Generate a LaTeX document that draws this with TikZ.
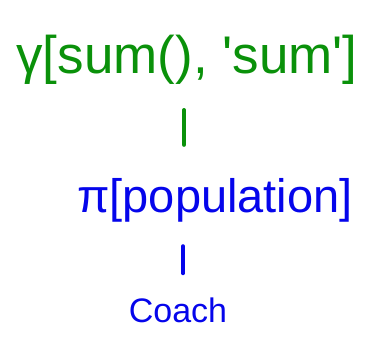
\documentclass[tikz,border=0pt]{standalone}
\usepackage{fontspec}
\setmainfont{Liberation Sans}
\usetikzlibrary{positioning}
\definecolor{inkgreen}{RGB}{10,145,10}
\definecolor{inkblue}{RGB}{5,5,235}
\begin{document}
\begin{tikzpicture}[x=1pt, y=-1pt,
    every node/.style={inner sep=0pt},
    opgreen/.style={text=inkgreen, font=\fontsize{53}{58}\selectfont},
    opblue/.style={text=inkblue, font=\fontsize{47}{52}\selectfont},
    link/.style={line width=3.8pt, line cap=round}]
    \useasboundingbox (0,0) rectangle (367,360);

    % Gruppierung oben
    \node[opgreen] (group) at (187,60) {γ[sum(), \textquotesingle sum\textquotesingle]};

    % Projektion
    \node[opblue] (proj) at (215,200) {π[population]};

    % Relation
    \node[opblue, font=\fontsize{34}{38}\selectfont] (coach) at (178,310) {Coach};

    % Kanten
    \draw[link, inkgreen] ([xshift=-3pt, yshift=-25pt]group.south) -- ([xshift=-3pt, yshift=-60pt]group.south);
    \draw[link, inkblue] ([xshift=5pt, yshift=-24pt]proj.south -| coach.north) -- ([xshift=5pt, yshift=24pt]coach.north);
\end{tikzpicture}
\end{document}
